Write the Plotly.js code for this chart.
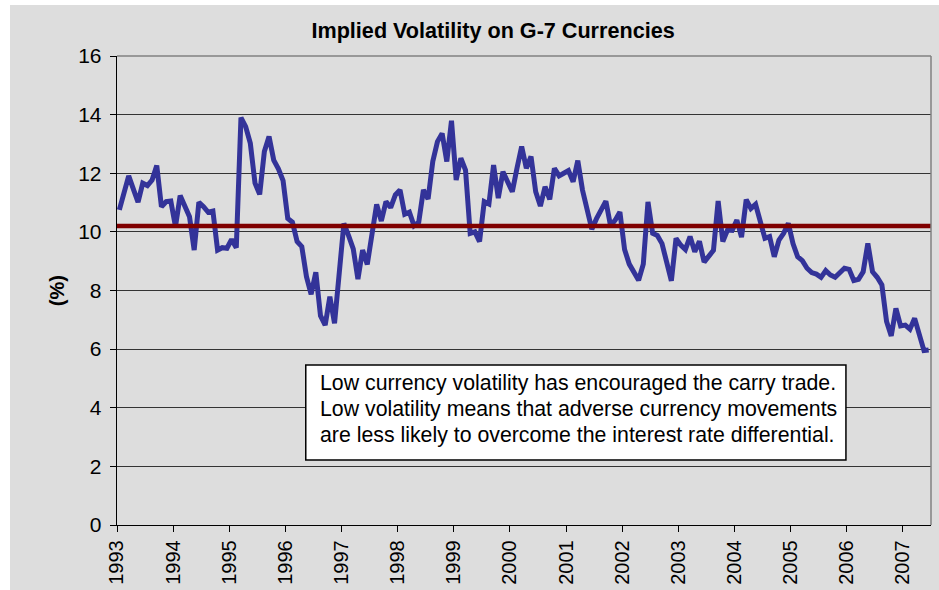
<!DOCTYPE html>
<html>
<head>
<meta charset="utf-8">
<script src="https://cdn.plot.ly/plotly-3.0.1.min.js"></script>
<style>
  html, body { margin: 0; padding: 0; background: #ffffff; }
  #chart { position: absolute; left: 10px; top: 5px; width: 929px; height: 585px; }
</style>
</head>
<body>
<div id="chart"></div>
<script>
// ---- data ----
const startYear = 1993;
const yearLabels = ["1993","1994","1995","1996","1997","1998","1999","2000","2001","2002","2003","2004","2005","2006","2007"];
// monthly implied volatility (%), Jan 1993 - Jun 2007
const volatility = [
  10.75, 11.35, 11.91, 11.46, 11.01, 11.66, 11.58, 11.77, 12.26, 10.86, 11.03, 11.05,
  10.18, 11.24, 10.92, 10.52,  9.38, 11.01, 10.86, 10.67, 10.71,  9.38,  9.46,  9.44,
   9.74,  9.46, 13.90, 13.59, 13.02, 11.66, 11.28, 12.74, 13.25, 12.45, 12.15, 11.75,
  10.46, 10.33,  9.67,  9.50,  8.47,  7.87,  8.62,  7.14,  6.82,  7.79,  6.88,  8.59,
  10.29,  9.87,  9.42,  8.39,  9.38,  8.89, 10.00, 10.94, 10.37, 11.03, 10.83, 11.26,
  11.43, 10.60, 10.67, 10.21, 10.33, 11.43, 11.12, 12.40, 13.08, 13.36, 12.40, 13.79,
  11.77, 12.51, 12.11,  9.95, 10.00,  9.67, 11.03, 10.95, 12.28, 11.15, 12.05, 11.71,
  11.37, 12.17, 12.91, 12.17, 12.57, 11.37, 10.88, 11.54, 11.11, 12.17, 11.91, 12.00,
  12.09, 11.71, 12.43, 11.43, 10.75, 10.09, 10.45, 10.75, 11.05, 10.21, 10.40, 10.68,
   9.40,  8.90,  8.60,  8.35,  8.90, 11.02,  9.95,  9.88,  9.60,  8.95,  8.33,  9.78,
   9.55,  9.40,  9.84,  9.32,  9.68,  8.97,  9.14,  9.37, 11.05,  9.67, 10.06, 10.05,
  10.40,  9.82, 11.10, 10.80, 10.94, 10.38,  9.78,  9.84,  9.15,  9.72,  9.95, 10.29,
   9.60,  9.15,  9.02,  8.76,  8.61,  8.56,  8.45,  8.68,  8.53,  8.45,  8.61,  8.76,
   8.72,  8.34,  8.38,  8.64,  9.61,  8.64,  8.45,  8.19,  6.94,  6.45,  7.39,  6.79,
   6.82,  6.68,  7.05,  6.42,  5.95,  5.97
];
const averageVol = 10.2;
const yTickVals = [0, 2, 4, 6, 8, 10, 12, 14, 16];

const chartTitle = "Implied Volatility on G-7 Currencies";
const yTitle = "(%)";
const noteLines = [
  "Low currency volatility has encouraged the carry trade.",
  "Low volatility means that adverse currency movements",
  "are less likely to overcome the interest rate differential."
];

// ---- build ----
const xMonths = volatility.map((v, i) => startYear + (i + 0.5) / 12);
const yearTicks = yearLabels.map(s => Number(s));
const xEnd = startYear + volatility.length / 12;

const FONT = "Liberation Sans, Arial, sans-serif";

const traces = [{
  type: "scatter",
  mode: "lines",
  x: xMonths,
  y: volatility,
  line: { color: "#333399", width: 5, shape: "linear" },
  hoverinfo: "skip",
  showlegend: false
}];

const noteY = [0.3037, 0.2483, 0.1929];
const annotations = [
  {
    text: yTitle, xref: "paper", yref: "paper", x: -0.0741, y: 0.5,
    xanchor: "center", yanchor: "middle", textangle: -90, showarrow: false,
    font: { family: FONT, size: 20, color: "#000", weight: "bold" }
  }
].concat(noteLines.map((t, k) => ({
  text: t, xref: "paper", yref: "paper", x: 0.2475, y: noteY[k],
  xanchor: "left", yanchor: "middle", showarrow: false, align: "left",
  font: { family: FONT, size: 21.3, color: "#000" }
})));

const shapes = [
  { type: "line", xref: "paper", yref: "y", x0: 0, x1: 1, y0: averageVol, y1: averageVol,
    line: { color: "#800000", width: 4.5 }, layer: "above" },
  { type: "line", xref: "paper", yref: "paper", x0: 0, x1: 1, y0: 1, y1: 1,
    line: { color: "#808080", width: 1.5 }, layer: "above" },
  { type: "line", xref: "paper", yref: "paper", x0: 1, x1: 1, y0: 0, y1: 1,
    line: { color: "#808080", width: 1.5 }, layer: "above" },
  { type: "rect", xref: "paper", yref: "paper", x0: 0.2319, x1: 0.8955, y0: 0.1386, y1: 0.3412,
    line: { color: "#000", width: 1.5 }, fillcolor: "#ffffff", layer: "above" }
];

const layout = {
  width: 929, height: 585,
  margin: { l: 107, r: 8, t: 51, b: 65, pad: 0 },
  paper_bgcolor: "#DDDDDD",
  plot_bgcolor: "#DDDDDD",
  font: { family: FONT, color: "#000" },
  title: {
    text: chartTitle, xref: "container", yref: "container",
    x: 0.52, y: 0.957, xanchor: "center", yanchor: "middle",
    font: { family: FONT, size: 21.6, color: "#000", weight: "bold" }
  },
  showlegend: false,
  xaxis: {
    type: "linear", range: [startYear, xEnd], fixedrange: true,
    tickmode: "array", tickvals: yearTicks, ticktext: yearLabels,
    tickangle: -90, ticks: "outside", ticklen: 6, tickcolor: "#000", tickwidth: 1,
    tickfont: { family: FONT, size: 20, color: "#000" },
    showline: true, linecolor: "#000", linewidth: 1.3,
    showgrid: false, zeroline: false, automargin: false
  },
  yaxis: {
    range: [0, 16], fixedrange: true,
    tickmode: "array", tickvals: yTickVals, ticktext: yTickVals.map(String),
    ticks: "outside", ticklen: 6, tickcolor: "#000", tickwidth: 1,
    tickfont: { family: FONT, size: 21, color: "#000" },
    ticklabelstandoff: 4,
    showline: true, linecolor: "#000", linewidth: 1.3,
    showgrid: true, gridcolor: "#333333", gridwidth: 1,
    zeroline: false, automargin: false
  },
  shapes: shapes,
  annotations: annotations
};

Plotly.newPlot("chart", traces, layout, { displayModeBar: false, staticPlot: true });
</script>
</body>
</html>
